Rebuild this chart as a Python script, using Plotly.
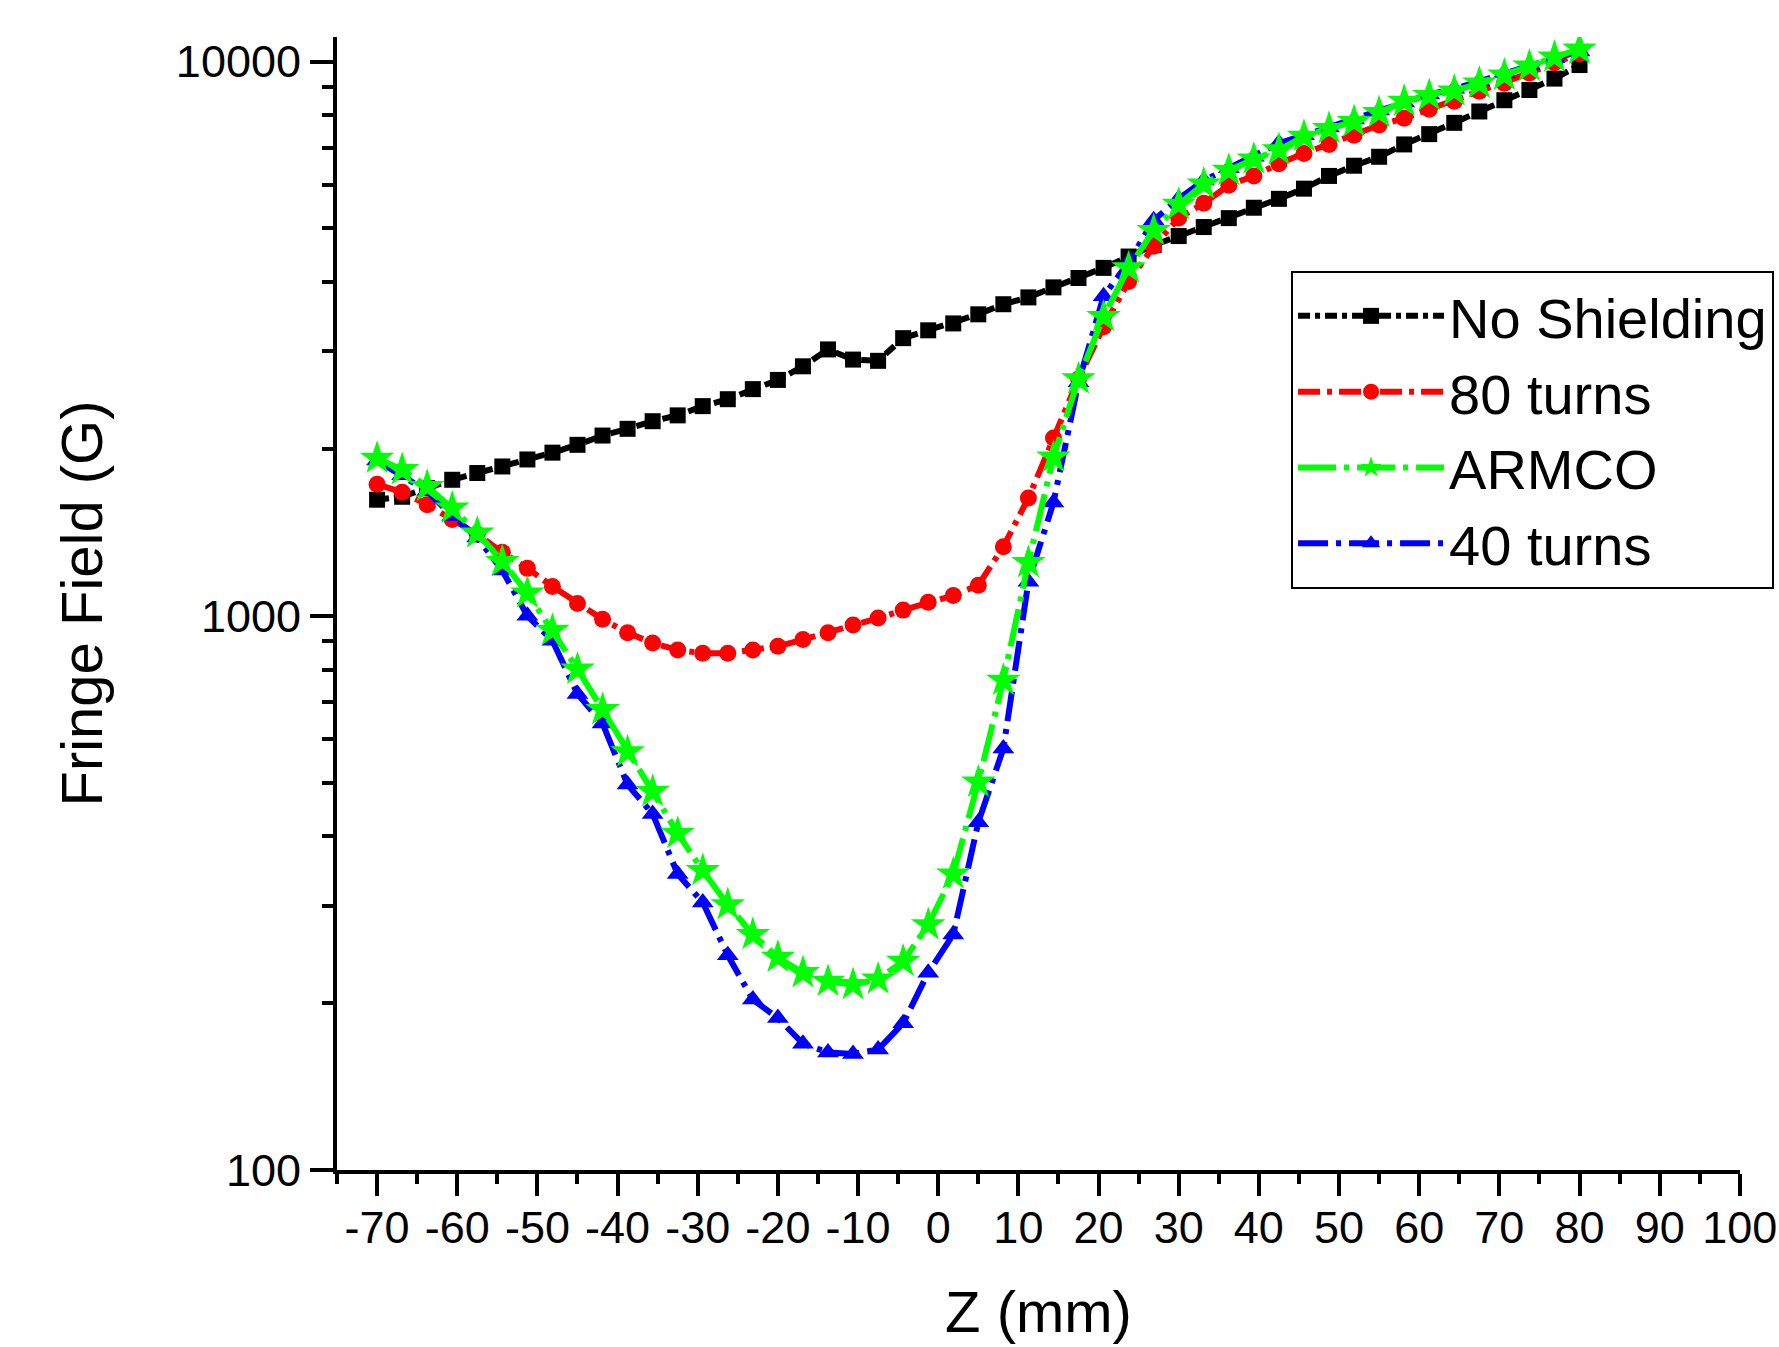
import plotly.graph_objects as go

# Z positions (mm)
z_mm = [-70, -66.875, -63.75, -60.625, -57.5, -54.375, -51.25, -48.125, -45, -41.875,
        -38.75, -35.625, -32.5, -29.375, -26.25, -23.125, -20, -16.875, -13.75, -10.625,
        -7.5, -4.375, -1.25, 1.875, 5, 8.125, 11.25, 14.375, 17.5, 20.625,
        23.75, 26.875, 30, 33.125, 36.25, 39.375, 42.5, 45.625, 48.75, 51.875,
        55, 58.125, 61.25, 64.375, 67.5, 70.625, 73.75, 76.875, 80]

# Fringe field (G)
no_shielding = [1620, 1640, 1700, 1760, 1810, 1860, 1915, 1970, 2035, 2115,
                2175, 2245, 2300, 2390, 2460, 2565, 2665, 2820, 3025, 2900,
                2885, 3170, 3275, 3370, 3500, 3650, 3755, 3915, 4070, 4245,
                4450, 4665, 4845, 5030, 5220, 5450, 5655, 5900, 6220, 6490,
                6735, 7090, 7400, 7755, 8130, 8520, 8890, 9320, 9860]

turns_80 = [1727, 1671, 1587, 1492, 1403, 1302, 1218, 1130, 1053, 986,
            932, 893, 868, 856, 856, 868, 881, 906, 932, 963,
            991, 1024, 1058, 1088, 1136, 1333, 1632, 2094, 2676, 3323,
            4011, 4642, 5222, 5551, 5986, 6218, 6546, 6830, 7091, 7364,
            7683, 7903, 8206, 8481, 8847, 9143, 9541, 9954, 10335]

armco = [1924, 1835, 1711, 1564, 1410, 1253, 1099, 941, 801, 677,
         568, 482, 405, 347, 301, 266, 242, 227, 219, 216,
         221, 238, 277, 342, 501, 765, 1248, 1933, 2676, 3467,
         4244, 4958, 5525, 6014, 6364, 6671, 6928, 7328, 7574, 7791,
         8091, 8481, 8684, 8847, 9143, 9452, 9813, 10190, 10532]

turns_40 = [1906, 1793, 1679, 1514, 1384, 1207, 1000, 902, 723, 639,
            496, 439, 342, 304, 244, 203, 188, 169, 163, 162,
            165, 184, 227, 266, 424, 576, 1152, 1601, 2638, 3773,
            4345, 5173, 5657, 6100, 6424, 6735, 7126, 7364, 7610, 7864,
            8167, 8441, 8725, 8932, 9230, 9541, 9861, 10142, 10432]

x_tick_vals = [-70, -60, -50, -40, -30, -20, -10, 0, 10, 20, 30, 40, 50, 60, 70, 80, 90, 100]
x_tick_text = ["-70", "-60", "-50", "-40", "-30", "-20", "-10", "0", "10", "20",
               "30", "40", "50", "60", "70", "80", "90", "100"]
y_tick_vals = [100, 1000, 10000]
y_tick_text = ["100", "1000", "10000"]
y_minor_vals = [200, 300, 400, 500, 600, 700, 800, 900,
                2000, 3000, 4000, 5000, 6000, 7000, 8000, 9000]

FONT = "Arial, 'Liberation Sans', sans-serif"
LW = 6

fig = go.Figure()
fig.add_trace(go.Scatter(
    x=z_mm, y=no_shielding, name="No Shielding", mode="lines+markers", legendrank=1,
    line=dict(color="#000000", width=LW, dash="12px,5px,5px,5px"),
    marker=dict(symbol="square", size=16, color="#000000")))
fig.add_trace(go.Scatter(
    x=z_mm, y=turns_80, name="80 turns", mode="lines+markers", legendrank=2,
    line=dict(color="#ff0000", width=LW, dash="22px,7px,5px,7px"),
    marker=dict(symbol="circle", size=17, color="#ff0000")))
fig.add_trace(go.Scatter(
    x=z_mm, y=turns_40, name="40 turns", mode="lines+markers", legendrank=4,
    line=dict(color="#0000ff", width=LW, dash="30px,8px,5px,8px"),
    marker=dict(symbol="triangle-up", size=19, color="#0000ff")))
fig.add_trace(go.Scatter(
    x=z_mm, y=armco, name="ARMCO", mode="lines+markers", legendrank=3,
    line=dict(color="#00ff00", width=LW, dash="38px,8px,5px,8px"),
    marker=dict(symbol="star", size=26, color="#00ff00")))

fig.update_layout(
    width=1779, height=1347,
    margin=dict(l=337, r=39, t=37, b=177, pad=0, autoexpand=False),
    paper_bgcolor="white", plot_bgcolor="white",
    font=dict(family=FONT, color="black"),
    showlegend=True,
    legend=dict(
        x=0.680, y=0.7935, xanchor="left", yanchor="top",
        bordercolor="black", borderwidth=2, bgcolor="white",
        font=dict(size=56, family=FONT, color="black"),
        itemwidth=146, tracegroupgap=0, itemsizing="trace",
    ),
    xaxis=dict(
        range=[-75, 100.02], tickmode="array", tickvals=x_tick_vals, ticktext=x_tick_text,
        ticks="outside", ticklen=22, tickwidth=4, tickcolor="black",
        ticklabelstandoff=-7, ticklabeloverflow="allow",
        showline=True, linewidth=4, linecolor="black", mirror=False,
        showgrid=False, zeroline=False,
        tickfont=dict(size=45, family=FONT, color="black"),
        minor=dict(ticks="outside", ticklen=10, tickwidth=4, tickcolor="black",
                   dtick=5, tick0=0, showgrid=False),
        title=dict(text="Z (mm)", font=dict(size=58, family=FONT, color="black"),
                   standoff=40),
    ),
    yaxis=dict(
        type="log", range=[2, 4.0445],
        tickmode="array", tickvals=y_tick_vals, ticktext=y_tick_text,
        ticks="outside", ticklen=23, tickwidth=4, tickcolor="black",
        showline=True, linewidth=4, linecolor="black", mirror=False,
        showgrid=False, zeroline=False,
        tickfont=dict(size=45, family=FONT, color="black"),
        minor=dict(ticks="outside", ticklen=11, tickwidth=4, tickcolor="black",
                   tickmode="array", tickvals=y_minor_vals, showgrid=False),
        title=dict(text="Fringe Field (G)", font=dict(size=58, family=FONT, color="black"),
                   standoff=56),
    ),
)

fig.write_html("out.html", config={"displayModeBar": False},
               post_script="document.body.style.margin='0';document.body.style.overflow='hidden';")
